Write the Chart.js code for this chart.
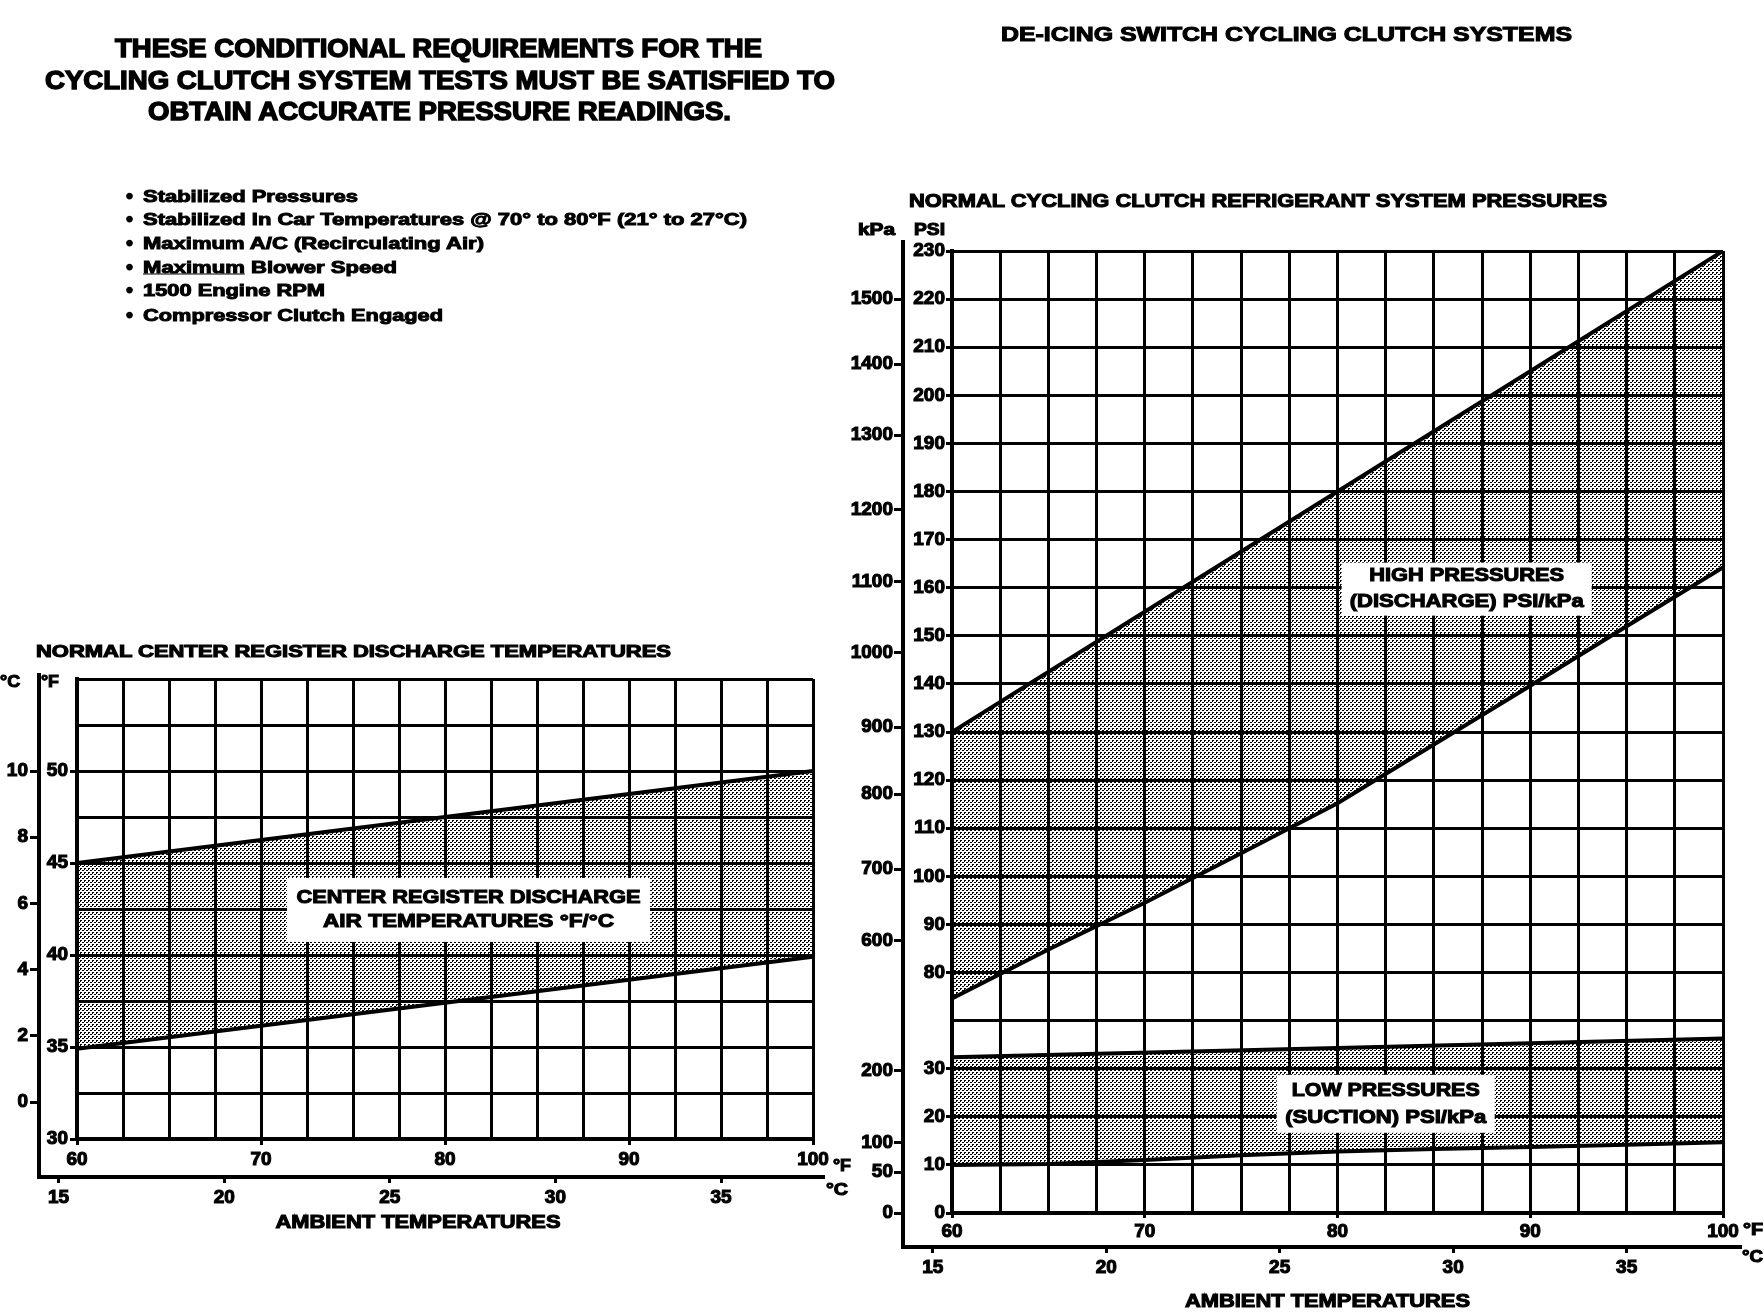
<!DOCTYPE html>
<html>
<head>
<meta charset="utf-8">
<script src="https://cdn.jsdelivr.net/npm/chart.js@4.4.1/dist/chart.umd.min.js"></script>
<style>
html, body { margin:0; padding:0; background:#fff; }
body { width:1764px; height:1312px; position:relative; overflow:hidden; }
canvas { position:absolute; left:0; top:0; }
.t { position:absolute; white-space:nowrap; font-family:"Liberation Sans", Arial, Helvetica, sans-serif; font-weight:bold; color:#000; -webkit-text-stroke:1px #000; line-height:1; transform-origin:0 50%; }
</style>
</head>
<body>
<canvas id="leftChart" width="1764" height="1312"></canvas>
<canvas id="rightChart" width="1764" height="1312"></canvas>
<script>
// ================= DATA =================
// Left chart: normal center register discharge temperatures (°F) vs ambient (°F)
const leftAmbientF = [60, 80, 100];
const leftUpperF   = [45, 47.5, 50];
const leftLowerF   = [34.9, 37.4, 39.9];
const leftYLabelsF = [30, 35, 40, 45, 50];
const leftYLabelsC = [0, 2, 4, 6, 8, 10];
const ambientLabelsF = [60, 70, 80, 90, 100];
const ambientLabelsC = [15, 20, 25, 30, 35];

// Right chart: normal cycling clutch refrigerant pressures (PSI) vs ambient (°F)
const highUpperAmbientF = [60, 70, 80, 90, 100];
const highUpperPsi      = [130, 155, 180, 205, 230];
const highLowerAmbientF = [60, 65, 70, 75, 80, 85, 90, 95, 100];
const highLowerPsi      = [74.6, 84.8, 94.5, 104.8, 115.2, 127.4, 139.6, 152, 164.2];
const lowUpperAmbientF  = [60, 80, 100];
const lowUpperPsi       = [32.4, 34.3, 36.3];
const lowLowerAmbientF  = [60, 65, 70, 75, 80, 85, 90, 95, 100];
const lowLowerPsi       = [10, 10.2, 11, 12, 12.8, 13.3, 13.7, 14.2, 14.7];
const psiLabels = [0, 10, 20, 30, 80, 90, 100, 110, 120, 130, 140, 150, 160, 170, 180, 190, 200, 210, 220, 230];
const kpaLabels = [0, 50, 100, 200, 600, 700, 800, 900, 1000, 1100, 1200, 1300, 1400, 1500];
const kpaAtPsi  = [0, 8.5, 14.7, 29.6, 86.7, 101.5, 117.1, 131, 146.5, 161.3, 176.3, 191.7, 206.5, 220];
const psiBreakFrom = 40, psiBreakTo = 70;   // axis break (40..70 PSI omitted)

// ================= HELPERS =================
const FONT = '"Liberation Sans", Arial, Helvetica, sans-serif';
const fToC = f => (f - 32) / 1.8;
const toAxis = p => p <= psiBreakFrom ? p : p - (psiBreakTo - psiBreakFrom);
const fromAxis = v => v <= psiBreakFrom ? v : v + (psiBreakTo - psiBreakFrom);
const range = (a, b, s) => { const r = []; for (let v = a; v <= b + 1e-9; v += s) r.push(Math.round(v * 100) / 100); return r; };
const pts = (xs, ys, f = v => v) => xs.map((x, i) => ({ x, y: f(ys[i]) }));
const setTicks = list => s => { s.ticks = list.map(v => ({ value: v })); };
const tickOn = list => c => (c.tick && list.includes(c.tick.value)) ? '#000' : 'rgba(0,0,0,0)';
const tickFont = { family: FONT, size: 19, weight: 'bold' };
const tickOpts = extra => Object.assign({ color: '#000', font: tickFont, autoSkip: false, maxRotation: 0, minRotation: 0, textStrokeColor: '#000', textStrokeWidth: 1.1 }, extra);

function makeStipple() {
  const c = document.createElement('canvas'); c.width = 4; c.height = 4;
  const g = c.getContext('2d');
  g.fillStyle = '#000';
  g.fillRect(0, 0, 2, 1); g.fillRect(2, 2, 2, 1); g.fillRect(0, 1, 1, 1);
  return g.createPattern(c, 'repeat');
}
const stipple = makeStipple();

function fitText(ctx, text, x, y, w, align) {
  ctx.save();
  ctx.textBaseline = 'middle'; ctx.textAlign = 'left';
  const m = ctx.measureText(text).width;
  const k = w ? w / m : 1;
  const left = align === 'center' ? x - (w || m) / 2 : x;
  ctx.translate(left, y); ctx.scale(k, 1);
  ctx.lineWidth = 1.1; ctx.strokeStyle = '#000'; ctx.fillStyle = '#000';
  ctx.strokeText(text, 0, 0); ctx.fillText(text, 0, 0);
  ctx.restore();
}

const decorPlugin = {
  id: 'decor',
  afterDraw(chart, args, o) {
    const ctx = chart.ctx, ca = chart.chartArea, S = chart.scales;
    ctx.save();
    (o.boxes || []).forEach(b => {
      const cx = S.x.getPixelForValue(b.x), cy = S.y.getPixelForValue(b.y);
      ctx.fillStyle = '#fff';
      ctx.fillRect(cx - b.w / 2, cy - b.h / 2, b.w, b.h);
      ctx.font = b.font;
      b.lines.forEach((t, i) => fitText(ctx, t, cx, cy + (i - (b.lines.length - 1) / 2) * b.lh, b.widths[i], 'center'));
    });
    const f = o.frame, fy = S[f.yScale], fx = S[f.xScale];
    ctx.strokeStyle = '#000'; ctx.lineWidth = f.width; ctx.lineCap = 'square';
    ctx.beginPath();
    ctx.moveTo(fy.right, ca.top - f.top);
    ctx.lineTo(fy.right, fx.top);
    ctx.lineTo(ca.right + f.right, fx.top);
    ctx.stroke();
    ctx.font = 'bold 17px ' + FONT;
    (o.headers || []).forEach(h => fitText(ctx, h.text, S[h.scale].left + h.dx, ca.top + h.dy, h.w, 'left'));
    (o.units || []).forEach(u => fitText(ctx, u.text, ca.right + u.dx, S[u.scale].top + u.dy, u.w, 'left'));
    if (o.title) {
      ctx.font = 'bold 19px ' + FONT;
      const cx = (fy.right + ca.right + f.right) / 2 + o.title.dx;
      fitText(ctx, o.title.text, cx, fx.top + o.title.dy, o.title.w, 'center');
    }
    ctx.restore();
  }
};

const lineDs = (data, fill) => ({ data, fill, backgroundColor: stipple, borderColor: '#000', borderWidth: 4, pointRadius: 0, tension: 0, borderCapStyle: 'butt' });
const baseOpts = { responsive: false, animation: false, devicePixelRatio: 1, events: [] };

// ================= LEFT CHART =================
const leftGridF = range(60, 100, 2.5);
const leftGridY = range(30, 55, 2.5);
new Chart(document.getElementById('leftChart'), {
  type: 'line',
  data: { datasets: [
    lineDs(pts(leftAmbientF, leftUpperF), '+1'),
    lineDs(pts(leftAmbientF, leftLowerF), false)
  ]},
  options: Object.assign({}, baseOpts, {
    layout: { padding: { left: 0, top: 679, right: 951, bottom: 72 } },
    plugins: {
      legend: { display: false }, tooltip: { enabled: false },
      decor: {
        frame: { yScale: 'yc', xScale: 'xc', top: 4, right: 10, width: 4 },
        headers: [ { text: '°C', scale: 'yc', dx: 0, dy: 3, w: 20 }, { text: '°F', scale: 'y', dx: 2, dy: 3, w: 18 } ],
        units: [ { text: '°F', scale: 'x', dx: 20, dy: 27, w: 18 }, { text: '°C', scale: 'xc', dx: 13, dy: 13, w: 22 } ],
        title: { text: 'AMBIENT TEMPERATURES', dx: -13, dy: 46, w: 285 },
        boxes: [ { lines: ['CENTER REGISTER DISCHARGE', 'AIR TEMPERATURES °F/°C'], widths: [344, 291], x: 81.28, y: 42.45, w: 363, h: 64, lh: 24, font: 'bold 19px ' + FONT } ]
      }
    },
    scales: {
      x: { type: 'linear', position: 'bottom', weight: 0, min: 60, max: 100,
        afterBuildTicks: setTicks(leftGridF), afterFit: s => { s.height = 38; },
        grid: { color: '#000', lineWidth: 3, tickLength: 6, tickWidth: 3, tickColor: tickOn(ambientLabelsF) },
        border: { color: '#000', width: 4 },
        ticks: tickOpts({ padding: 3, callback: v => ambientLabelsF.includes(v) ? String(v) : '' }) },
      xc: { type: 'linear', position: 'bottom', weight: 1, min: fToC(60), max: fToC(100),
        afterBuildTicks: setTicks(ambientLabelsC), afterFit: s => { s.height = 63; },
        grid: { drawOnChartArea: false, color: '#000', tickLength: 6, tickWidth: 3 },
        border: { display: false },
        ticks: tickOpts({ padding: 3, callback: v => String(v) }) },
      y: { type: 'linear', position: 'left', weight: 0, min: 30, max: 55,
        afterBuildTicks: setTicks(leftGridY), afterFit: s => { s.width = 38; },
        grid: { color: '#000', lineWidth: 3, tickLength: 7, tickWidth: 3, tickColor: tickOn(leftYLabelsF) },
        border: { color: '#000', width: 4 },
        ticks: tickOpts({ padding: 2, callback: v => leftYLabelsF.includes(v) ? String(v) : '' }) },
      yc: { type: 'linear', position: 'left', weight: 1, min: fToC(30), max: fToC(55),
        afterBuildTicks: setTicks(leftYLabelsC), afterFit: s => { s.width = 39; },
        grid: { drawOnChartArea: false, color: '#000', tickLength: 9, tickWidth: 3 },
        border: { display: false },
        ticks: tickOpts({ padding: 2, callback: v => String(v) }) }
    }
  }),
  plugins: [decorPlugin]
});

// ================= RIGHT CHART =================
const rightGridF = range(60, 100, 2.5);
const rightGridY = range(toAxis(0), toAxis(230), 10);
new Chart(document.getElementById('rightChart'), {
  type: 'line',
  data: { datasets: [
    lineDs(pts(highUpperAmbientF, highUpperPsi, toAxis), '+1'),
    lineDs(pts(highLowerAmbientF, highLowerPsi, toAxis), false),
    lineDs(pts(lowUpperAmbientF, lowUpperPsi, toAxis), '+1'),
    lineDs(pts(lowLowerAmbientF, lowLowerPsi, toAxis), false)
  ]},
  options: Object.assign({}, baseOpts, {
    layout: { padding: { left: 840, top: 251, right: 41, bottom: 0 } },
    plugins: {
      legend: { display: false }, tooltip: { enabled: false },
      decor: {
        frame: { yScale: 'yk', xScale: 'xc', top: 9, right: 17, width: 4 },
        headers: [ { text: 'kPa', scale: 'yk', dx: 18, dy: -21, w: 37 }, { text: 'PSI', scale: 'y', dx: 11, dy: -21, w: 31 } ],
        units: [ { text: '°F', scale: 'x', dx: 20, dy: 17, w: 20 }, { text: '°C', scale: 'xc', dx: 19, dy: 10, w: 21 } ],
        title: { text: 'AMBIENT TEMPERATURES', dx: 6, dy: 55, w: 285 },
        boxes: [
          { lines: ['HIGH PRESSURES', '(DISCHARGE) PSI/kPa'], widths: [195, 234], x: 86.7, y: toAxis(159.7), w: 250, h: 53, lh: 26, font: 'bold 19px ' + FONT },
          { lines: ['LOW PRESSURES', '(SUCTION) PSI/kPa'], widths: [188, 201], x: 82.5, y: toAxis(22.7), w: 218, h: 58, lh: 27, font: 'bold 19px ' + FONT }
        ]
      }
    },
    scales: {
      x: { type: 'linear', position: 'bottom', weight: 0, min: 60, max: 100,
        afterBuildTicks: setTicks(rightGridF), afterFit: s => { s.height = 34; },
        grid: { color: '#000', lineWidth: 3, tickLength: 5, tickWidth: 3, tickColor: tickOn(ambientLabelsF) },
        border: { color: '#000', width: 4 },
        ticks: tickOpts({ padding: 2, callback: v => ambientLabelsF.includes(v) ? String(v) : '' }) },
      xc: { type: 'linear', position: 'bottom', weight: 1, min: fToC(60), max: fToC(100),
        afterBuildTicks: setTicks(ambientLabelsC), afterFit: s => { s.height = 65; },
        grid: { drawOnChartArea: false, color: '#000', tickLength: 6, tickWidth: 3 },
        border: { display: false },
        ticks: tickOpts({ padding: 3, callback: v => String(v) }) },
      y: { type: 'linear', position: 'left', weight: 0, min: toAxis(0), max: toAxis(230),
        afterBuildTicks: setTicks(rightGridY), afterFit: s => { s.width = 49; },
        grid: { color: '#000', lineWidth: 3, tickLength: 6, tickWidth: 3,
          tickColor: c => (c.tick && psiLabels.includes(fromAxis(c.tick.value))) ? '#000' : 'rgba(0,0,0,0)' },
        border: { color: '#000', width: 4 },
        ticks: tickOpts({ padding: 1, callback: v => psiLabels.includes(fromAxis(v)) ? String(fromAxis(v)) : '' }) },
      yk: { type: 'linear', position: 'left', weight: 1, min: toAxis(0), max: toAxis(230),
        afterBuildTicks: setTicks(kpaAtPsi.map(toAxis)), afterFit: s => { s.width = 63; },
        grid: { drawOnChartArea: false, color: '#000', tickLength: 9, tickWidth: 3 },
        border: { display: false },
        ticks: tickOpts({ padding: 1, callback: (v, i) => String(kpaLabels[i]) }) }
    }
  }),
  plugins: [decorPlugin]
});

// ================= PAGE TEXT =================
function placeText(html, x, y, w, size, stroke) {
  const d = document.createElement('div');
  d.className = 't'; d.style.fontSize = size + 'px'; d.innerHTML = html;
  if (stroke) d.style.webkitTextStroke = stroke + 'px #000';
  document.body.appendChild(d);
  const nat = d.getBoundingClientRect().width;
  const k = w ? w / nat : 1;
  d.style.left = x + 'px';
  d.style.top = y + 'px';
  d.style.transform = 'translateY(-50%) scaleX(' + k + ')';
}
const pageTexts = [
  ['THESE CONDITIONAL REQUIREMENTS FOR THE', 115, 48, 647, 25, 1.4],
  ['CYCLING CLUTCH SYSTEM TESTS MUST BE SATISFIED TO', 45, 80, 790, 25, 1.4],
  ['OBTAIN ACCURATE PRESSURE READINGS.', 148, 111, 583, 25, 1.4],
  ['DE-ICING SWITCH CYCLING CLUTCH SYSTEMS', 1001, 33, 571, 21, 1.1],
  ['NORMAL CYCLING CLUTCH REFRIGERANT SYSTEM PRESSURES', 909, 200, 698, 19, 1.1],
  ['NORMAL CENTER REGISTER DISCHARGE TEMPERATURES', 36, 651, 635, 17, 1.1]
];
pageTexts.forEach(t => placeText(t[0], t[1], t[2], t[3], t[4], t[5]));
const bulletItems = [
  ['Stabilized Pressures', 196, 215],
  ['Stabilized In Car Temperatures @ 70° to 80°F (21° to 27°C)', 219, 604],
  ['Maximum A/C (Recirculating Air)', 243, 341],
  ['<u>Maximum</u> Blower Speed', 267, 254],
  ['1500 Engine RPM', 290, 182],
  ['Compressor Clutch Engaged', 315, 300]
];
bulletItems.forEach(b => { placeText('•', 126, b[1], 0, 20, 1); placeText(b[0], 143, b[1], b[2], 17, 1); });
</script>
</body>
</html>
